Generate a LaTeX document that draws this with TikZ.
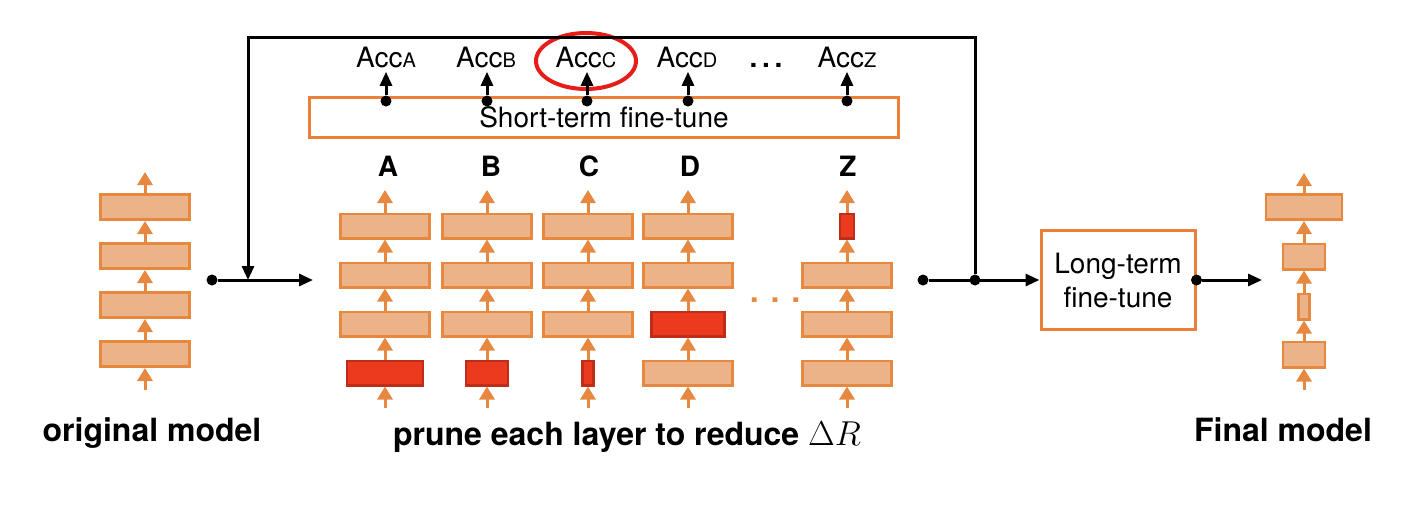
\documentclass[tikz,border=0pt]{standalone}
\usepackage{fontspec}
\setmainfont{TeX Gyre Heros}
\usetikzlibrary{arrows.meta,shapes.geometric}
\definecolor{layerfill}{RGB}{236,179,136}
\definecolor{layerdraw}{RGB}{231,136,64}
\definecolor{prunefill}{RGB}{236,58,30}
\definecolor{prunedraw}{RGB}{190,44,26}
\definecolor{boxorange}{RGB}{236,128,56}
\definecolor{ringred}{RGB}{230,30,25}
\newcommand{\acc}[1]{Acc{\fontsize{10}{10}\selectfont #1}}
\begin{document}
\begin{tikzpicture}[x=0.5pt,y=-0.5pt,
  layer/.style={rectangle, draw=layerdraw, fill=layerfill, line width=1.4pt, minimum width=44.6pt, minimum height=12.1pt, inner sep=0pt},
  pruned/.style={layer, draw=prunedraw, fill=prunefill},
  flow/.style={draw=layerdraw, line width=1.5pt, -{Triangle[width=7.5pt,length=6.5pt]}},
  link/.style={line width=1.5pt, -{Triangle[width=6pt,length=7pt]}},
  dot/.style={circle, fill=black, inner sep=0pt, minimum size=5.5pt},
  stage/.style={rectangle, draw=boxorange, line width=1.5pt, font=\fontsize{14}{17}\selectfont},
  accnode/.style={anchor=base, inner sep=2pt, font=\fontsize{14}{15}\selectfont},
  header/.style={anchor=base, font=\fontsize{14}{16}\selectfont\bfseries},
  caption/.style={anchor=base, font=\fontsize{16}{19}\selectfont\bfseries}]
  \useasboundingbox (0,0) rectangle (1421,526);

  % Nodes: original model
  \node (O1) at (145,207) [layer, minimum height=12.6pt] {};
  \node (O2) at (145,256) [layer, minimum height=12.6pt] {};
  \node (O3) at (145,305) [layer, minimum height=12.6pt] {};
  \node (O4) at (145,354) [layer, minimum height=12.6pt] {};
  \coordinate (Oin) at (145,390);
  \coordinate (Oout) at (145,172);
  \node (orig) at (152,441) [caption] {original model};

  % Nodes: pruned candidates
  \node (A1) at (385,226) [layer] {};
  \node (A2) at (385,275) [layer] {};
  \node (A3) at (385,324) [layer] {};
  \node (A4) at (385,373) [pruned, minimum width=38pt] {};
  \node (B1) at (487,226) [layer] {};
  \node (B2) at (487,275) [layer] {};
  \node (B3) at (487,324) [layer] {};
  \node (B4) at (487,373) [pruned, minimum width=21pt] {};
  \node (C1) at (588,226) [layer] {};
  \node (C2) at (588,275) [layer] {};
  \node (C3) at (588,324) [layer] {};
  \node (C4) at (588,373) [pruned, minimum width=5.6pt] {};
  \node (D1) at (688,226) [layer] {};
  \node (D2) at (688,275) [layer] {};
  \node (D3) at (688,324) [pruned, minimum width=36.6pt] {};
  \node (D4) at (688,373) [layer] {};
  \node (Z1) at (847,226) [pruned, minimum width=7pt] {};
  \node (Z2) at (847,275) [layer] {};
  \node (Z3) at (847,324) [layer] {};
  \node (Z4) at (847,373) [layer] {};
  \node (gap) at (775,300) [text=layerdraw, font=\fontsize{16}{16}\selectfont\bfseries] {. . .};

  \node (hA) at (388,176) [header] {A};
  \node (hB) at (491,176) [header] {B};
  \node (hC) at (589,176) [header] {C};
  \node (hD) at (690,176) [header] {D};
  \node (hZ) at (848,176) [header] {Z};
  \node (prune) at (627,445) [caption] {prune each layer to reduce $\Delta R$};

  % Nodes: fine-tuning
  \node (shortft) at (604,117.5) [stage, minimum width=294.5pt, minimum height=20pt] {Short-term fine-tune};
  \node (dA) at (386,101) [dot] {};
  \node (dB) at (487,101) [dot] {};
  \node (dC) at (587,101) [dot] {};
  \node (dD) at (688,101) [dot] {};
  \node (dZ) at (847,101) [dot] {};
  \node (accA) at (386,67) [accnode] {\acc{A}};
  \node (accB) at (486,67) [accnode] {\acc{B}};
  \node (accC) at (586,67) [accnode] {\acc{C}};
  \node (accD) at (687,67) [accnode] {\acc{D}};
  \node (accZ) at (847,67) [accnode] {\acc{Z}};
  \node (accdots) at (766,67) [accnode, font=\fontsize{14}{15}\selectfont\bfseries] {.\,.\,.};
  \node (pick) at (586,61) [ellipse, draw=ringred, line width=2pt, minimum width=50pt, minimum height=28pt, inner sep=0pt] {};

  \node (in) at (212,280) [dot] {};
  \coordinate (cand) at (313,280);
  \coordinate (join) at (248,280);
  \node (out) at (923,280) [dot] {};
  \node (split) at (975,280) [dot] {};
  \coordinate (loopR) at (975,37);
  \node (longft) at (1118,280) [stage, minimum width=77pt, minimum height=49.5pt, align=center] {Long-term\\fine-tune};
  \node (done) at (longft.east) [dot] {};
  \coordinate (Fin) at (1262,280);

  % Nodes: final model
  \node (F1) at (1304,207) [layer, minimum width=38pt, minimum height=12.6pt] {};
  \node (F2) at (1304,256.5) [layer, minimum width=21pt, minimum height=12.6pt] {};
  \node (F3) at (1304,306.5) [layer, minimum width=5.6pt, minimum height=12.6pt] {};
  \node (F4) at (1304,354.5) [layer, minimum width=21pt, minimum height=12.6pt] {};
  \coordinate (Fbot) at (1304,390);
  \coordinate (Ftop) at (1304,173);
  \node (final) at (1283,441) [caption] {Final model};

  % Edges: layer flow
  \draw[flow] (Oin) -- (O4.south);
  \draw[flow] (O1.north) -- (Oout);
  \draw[flow] (Fbot) -- (F4.south);
  \draw[flow] (F1.north) -- (Ftop);
  \foreach \c in {O,A,B,C,D,Z,F} {
    \draw[flow] (\c4.north) -- (\c3.south);
    \draw[flow] (\c3.north) -- (\c2.south);
    \draw[flow] (\c2.north) -- (\c1.south);
  }
  \foreach \c/\x in {A/385,B/487,C/588,D/688,Z/847} {
    \draw[flow] (\x,408) -- (\c4.south);
    \draw[flow] (\c1.north) -- (\x,190);
  }

  % Edges: accuracies
  \draw[link] (dA) -- (dA |- accA.south);
  \draw[link] (dB) -- (dB |- accB.south);
  \draw[link] (dC) -- (dC |- accC.south);
  \draw[link] (dD) -- (dD |- accD.south);
  \draw[link] (dZ) -- (dZ |- accZ.south);

  % Edges: main flow
  \draw[link] (in) -- (cand);
  \draw[link] (split) -- (loopR) -| (join);
  \draw[link] (out) -- (longft.west);
  \draw[link] (done) -- (Fin);
\end{tikzpicture}
\end{document}
